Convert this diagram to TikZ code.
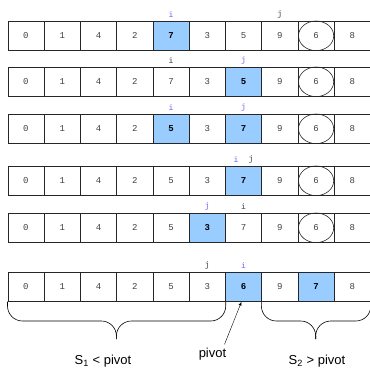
\documentclass[tikz,border=0pt]{standalone}
\usepackage{fontspec}
\setmainfont{Liberation Sans}
\newfontfamily\cellfont{Liberation Mono}
\usetikzlibrary{positioning}

\definecolor{hotblue}{RGB}{153,204,255}
\definecolor{ptrblue}{RGB}{102,102,255}

\tikzset{
  cell/.style={draw=black!85, line width=0.6pt, minimum width=36.27pt, minimum height=29pt,
    inner sep=0pt, anchor=north west, text=black!75, font=\cellfont\fontsize{9}{9}\selectfont},
  hot/.style={cell, fill=hotblue, text=black, font=\cellfont\bfseries\fontsize{9}{9}\selectfont},
  ptr/.style={inner sep=0pt, text=black!75, font=\cellfont\fontsize{8}{8}\selectfont},
  ptrhot/.style={ptr, text=ptrblue},
  brc/.style={rounded corners=15pt, line width=0.6pt}
}

\begin{document}
\begin{tikzpicture}[x=1pt, y=-1pt]
        \useasboundingbox (0,0) rectangle (370,370);
        % the six rows of the array
        \foreach \v/\s [count=\k from 0] in {0/cell,1/cell,4/cell,2/cell,7/hot,3/cell,5/cell,9/cell,6/cell,8/cell}
            \node[\s] (r1c\k) at (7.5+36.27*\k,21) {\v};
        \foreach \v/\s [count=\k from 0] in {0/cell,1/cell,4/cell,2/cell,7/cell,3/cell,5/hot,9/cell,6/cell,8/cell}
            \node[\s] (r2c\k) at (7.5+36.27*\k,67) {\v};
        \foreach \v/\s [count=\k from 0] in {0/cell,1/cell,4/cell,2/cell,5/hot,3/cell,7/hot,9/cell,6/cell,8/cell}
            \node[\s] (r3c\k) at (7.5+36.27*\k,114) {\v};
        \foreach \v/\s [count=\k from 0] in {0/cell,1/cell,4/cell,2/cell,5/cell,3/cell,7/hot,9/cell,6/cell,8/cell}
            \node[\s] (r4c\k) at (7.5+36.27*\k,166) {\v};
        \foreach \v/\s [count=\k from 0] in {0/cell,1/cell,4/cell,2/cell,5/cell,3/hot,7/cell,9/cell,6/cell,8/cell}
            \node[\s] (r5c\k) at (7.5+36.27*\k,213) {\v};
        \foreach \v/\s [count=\k from 0] in {0/cell,1/cell,4/cell,2/cell,5/cell,3/cell,6/hot,9/cell,7/hot,8/cell}
            \node[\s] (r6c\k) at (7.5+36.27*\k,272) {\v};

        % pivot circled
        \foreach \r in {1,...,5}
            \draw[black!85, line width=0.6pt] (r\r c8.center) ellipse [x radius=17.6pt, y radius=14.8pt];

        % i and j
        \node[ptrhot, above=3pt of r1c4] (i1) {i};
        \node[ptr, above=3pt of r1c7] (j1) {j};
        \node[ptr, above=3pt of r2c4] (i2) {i};
        \node[ptrhot, above=3pt of r2c6] (j2) {j};
        \node[ptrhot, above=3pt of r3c4] (i3) {i};
        \node[ptrhot, above=3pt of r3c6] (j3) {j};
        \node[ptrhot, above=3pt of r4c6, xshift=-7.5pt] (i4) {i};
        \node[ptr, above=3pt of r4c6, xshift=7.5pt] (j4) {j};
        \node[ptrhot, above=3pt of r5c5] (j5) {j};
        \node[ptr, above=3pt of r5c6] (i5) {i};
        \node[ptr, above=3pt of r6c5] (j6) {j};
        \node[ptrhot, above=3pt of r6c6] (i6) {i};

        % braces under the last row
        \coordinate (b1) at (116.4,321);
        \coordinate (t1) at (116.4,339);
        \coordinate (b2) at (315.7,321);
        \coordinate (t2) at (315.7,339);
        \draw[brc] (r6c0.south west) |- (b1) -- (t1);
        \draw[brc] (r6c5.south east) |- (b1) -- (t1);
        \draw[brc] (r6c7.south west) |- (b2) -- (t2);
        \draw[brc] (r6c9.south east) |- (b2) -- (t2);

        \node[font=\fontsize{13}{13}\selectfont] (s1) at (103,361) {S\textsubscript{1} < pivot};
        \node[font=\fontsize{13}{13}\selectfont] (s2) at (317,361) {S\textsubscript{2} > pivot};
        \node[font=\fontsize{13}{13}\selectfont] (piv) at (212.5,354) {pivot};
        \draw[-latex, thin] ([xshift=12pt]piv.north) -- ([xshift=-2pt]r6c6.south);
    \end{tikzpicture}
\end{document}
